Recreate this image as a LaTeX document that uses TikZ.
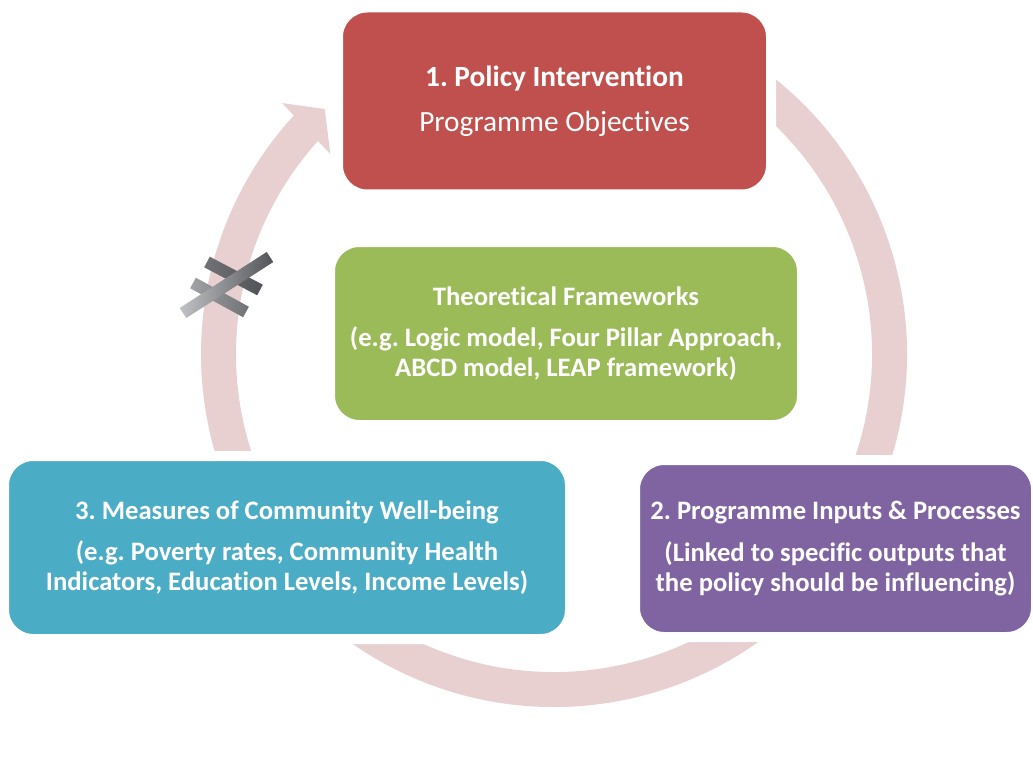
\documentclass[tikz,border=0pt]{standalone}
\usepackage{fontspec}
\setmainfont{Carlito}[Ligatures=NoCommon]
\usetikzlibrary{calc}
\definecolor{policyred}{RGB}{192,80,77}
\definecolor{theorygreen}{RGB}{155,187,89}
\definecolor{measureblue}{RGB}{75,172,198}
\definecolor{inputpurple}{RGB}{128,100,162}
\definecolor{ringpink}{RGB}{232,208,209}
\definecolor{crossdark}{RGB}{82,84,88}
\definecolor{crossmid}{RGB}{112,114,118}
\definecolor{crosslight}{RGB}{160,162,166}
\definecolor{crosspale}{RGB}{192,194,197}
\frenchspacing
\tikzset{
    cycle-box/.style = {rectangle, rounded corners=22pt, draw=white, line width=7.5pt, text=white, align=center, inner sep=0pt},
    cycle-ring/.style = {draw=ringpink, line width=26.25pt},
    box-text/.style = {font=\fontsize{20}{22.5}\selectfont},
}

\begin{document}
\begin{tikzpicture}[x=0.75pt, y=-0.75pt]
\useasboundingbox (0,0) rectangle (1033,767);
% the cycle ring with its arrow head
\coordinate (ctr) at (554,354);
\draw[cycle-ring] ($(ctr)+(-62:335.5)$) arc[start angle=-62, end angle=222.6, radius=335.5];
\fill[ringpink] ($(ctr)+(222.7:370)$) -- ($(ctr)+(226.9:335.5)$) -- ($(ctr)+(221.8:300)$) -- cycle;

% broken link mark
\foreach \xa/\ya/\xb/\yb/\ca/\cb in {207/262/260/290/crossmid/crossdark, 193/283/246/312/crosslight/crossmid, 183/313/270/257/crosspale/crossdark} {
    \coordinate (p) at (\xa,\ya);
    \coordinate (q) at (\xb,\yb);
    \shade[left color=\ca, right color=\cb]
        ($(p)!4.5pt!90:(q)$) -- ($(q)!4.5pt!-90:(p)$) -- ($(q)!4.5pt!90:(p)$) -- ($(p)!4.5pt!-90:(q)$) -- cycle;
}

% the four boxes
\node[cycle-box, fill=policyred, minimum width=324.75pt, minimum height=140.25pt,
      font=\fontsize{22}{27}\selectfont] (policy) at (554.5,101)
      {\textbf{1. Policy Intervention}\\[7pt] Programme Objectives};
\node[cycle-box, box-text, fill=theorygreen, minimum width=354pt, minimum height=137.25pt] (theory) at (566,333.5)
      {\textbf{Theoretical Frameworks}\\[8.5pt] \textbf{(e.g. Logic model, Four Pillar Approach,}\\ \textbf{ABCD model, LEAP framework)}};
\node[cycle-box, box-text, fill=measureblue, minimum width=424.5pt, minimum height=137.25pt] (measures) at (287,547.5)
      {\textbf{3. Measures of Community Well-being}\\[8.5pt] \textbf{(e.g. Poverty rates, Community Health}\\ \textbf{Indicators, Education Levels, Income Levels)}};
\node[cycle-box, box-text, fill=inputpurple, minimum width=300.75pt, minimum height=132.75pt] (inputs) at (835.5,548.5)
      {\textbf{2. Programme Inputs \& Processes}\\[8.5pt] \textbf{(Linked to specific outputs that}\\ \textbf{the policy should be influencing)}};
\end{tikzpicture}
\end{document}
